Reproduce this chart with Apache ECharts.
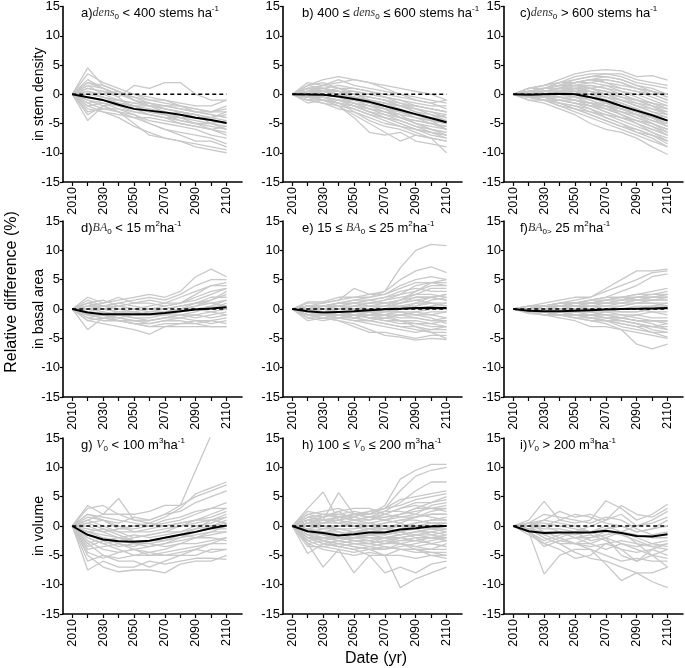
<!DOCTYPE html>
<html>
<head>
<meta charset="utf-8">
<script src="https://cdn.jsdelivr.net/npm/echarts@6/dist/echarts.min.js"></script>
<style>html,body{margin:0;padding:0;background:#fff}#c{width:685px;height:668px}</style>
</head>
<body>
<div id="c"></div>
<script>
const years = [2010,2020,2030,2040,2050,2060,2070,2080,2090,2100,2110];
const xLabelYears = [2010,2030,2050,2070,2090,2110];
const yTickValues = [-15,-10,-5,0,5,10,15];

const meanA = [0,-0.5,-1,-1.8,-2.5,-2.8,-3.1,-3.5,-4,-4.4,-4.9];
const meanB = [0,-0.05,-0.1,-0.4,-0.8,-1.3,-2.0,-2.7,-3.4,-4.1,-4.8];
const meanC = [0,-0.1,0,0.1,0,-0.5,-1.1,-2.0,-2.8,-3.6,-4.5];
const meanD = [0,-0.6,-0.9,-0.9,-0.9,-0.9,-0.7,-0.4,-0.1,0.1,0.3];
const meanE = [0,-0.4,-0.6,-0.5,-0.4,-0.2,-0.05,0.05,0.15,0.2,0.15];
const meanF = [0,-0.3,-0.4,-0.4,-0.3,-0.2,-0.1,0,0.05,0.1,0.15];
const meanG = [0,-1.5,-2.3,-2.6,-2.7,-2.5,-2.0,-1.5,-1.0,-0.4,0.1];
const meanH = [0,-0.9,-1.2,-1.6,-1.4,-1.1,-1.1,-0.6,-0.4,-0.1,0.0];
const meanI = [0,-0.9,-1.2,-1.1,-1.1,-1.1,-0.8,-1.2,-1.7,-1.8,-1.4];

const greyA = [
[0,4.5,1.5,0.5,-1,-2,-2.5,-3,-3.5,-4,-4.5],
[0,3.5,2,1,0,-1,-1.5,-2,-2.5,-3,-3],
[0,-4.5,-2,-3,-5,-7,-7.5,-8,-8.5,-9,-9.5],
[0,-2,-3,-4,-5.5,-6.5,-7.5,-8,-9,-9.5,-10],
[0,1,0.5,-0.5,1.5,1,2,2,0,-1,-1],
[0,2,1,0,-1,-1.5,-2,-2,-2.5,-3,-2],
[0,-1,-1.5,-2,-3,-3.5,-4,-5,-5.5,-6,-6.5],
[0,0.5,-0.5,-1.5,-2,-2.5,-3,-3.5,-4,-4.5,-5],
[0,-0.5,-1,-2,-2.5,-3,-3.5,-4.5,-5,-5.5,-6],
[0,1.5,0,-1,-1.5,-2,-2,-2.5,-3,-3.5,-4],
[0,-2.5,-3,-3.5,-4,-5,-6,-6.5,-7,-7.5,-8.5],
[0,-1.5,-1,-1.5,-2,-2,-2.5,-3,-4,-4,-3.5],
[0,2.5,1,-0.5,-2.5,-3.5,-4,-4,-5,-6,-7],
[0,0,-0.5,-1,-1.5,-1.5,-2,-2.5,-3,-3,-2.5],
[0,-3,-2.5,-3,-3.5,-4.5,-5,-5.5,-6,-7,-7.5],
[0,1,0.5,0,-0.5,-1,-1,-1.5,-2,-2,-1],
[0,-1,-2,-3,-4,-4,-4.5,-5,-5.5,-6,-5.5],
[0,0.5,0,0.5,-1,-2,-3,-4,-4.5,-5,-5.5],
[0,-2,-1.5,-2.5,-3,-3.5,-4,-4.5,-5,-5,-4.5],
[0,1.5,1,0,0,-0.5,-1,-2,-3,-3.5,-4],
[0,-0.5,-1,-1,-2,-3,-3.5,-3,-3.5,-4,-3],
[0,-1.5,-2.5,-2.5,-3.5,-5,-6,-7,-8,-8,-9],
[0,2,1.5,0.5,-0.5,-1.5,-2.5,-3,-3.5,-5,-6],
[0,-3.5,-2,-1.5,-2,-3,-3.5,-4,-4,-4.5,-5]
];
const greyB = [
[0,1.5,2.5,3,2.5,2,1.5,1,0.5,0,-1],
[0,2,1.5,2,2.5,2,1,0,-0.5,-1,-1.5],
[0,-1.5,-1,-2,-4,-6.5,-7,-6.5,-8,-8.5,-9],
[0,-0.5,-1,-2,-3.5,-5,-6.5,-8,-7,-7.5,-8],
[0,1,1,1.5,1,0.5,-0.5,-1.5,-2,-2.5,-3],
[0,0.5,0,-0.5,-1,-2,-3,-4,-5,-5.5,-6],
[0,-0.5,-0.5,-1,-2,-3,-4,-5,-6,-7,-7.5],
[0,0,0.5,0.5,0,-0.5,-1,-1.5,-2.5,-3.5,-4],
[0,1,0.5,0,-0.5,-1,-2,-3,-4,-4.5,-5],
[0,-1,-1.5,-2,-2.5,-3.5,-4.5,-5.5,-6.5,-7.5,-10],
[0,0.5,1,0.5,0.5,0,-0.5,-1,-1.5,-2,-2],
[0,-0.5,0,-0.5,-1.5,-2.5,-3,-3.5,-4,-5,-5.5],
[0,1.5,2,1,0,-1,-1.5,-2,-3,-3.5,-4.5],
[0,0,-0.5,-1.5,-2,-3,-3.5,-4,-4.5,-5,-5.5],
[0,-1,-0.5,-1,-1.5,-2,-2.5,-3.5,-5,-6,-7],
[0,0.5,1.5,2.5,1.5,1,0.5,0,-1,-1.5,-2.5],
[0,0,-1,-1.5,-3,-4,-5,-5.5,-6,-6.5,-7],
[0,1,0.5,0,-1,-1.5,-2.5,-3,-3.5,-4,-3.5],
[0,-0.5,-1,-1,-1.5,-2,-2.5,-3,-3.5,-4,-4.5],
[0,0.5,0,-0.5,-0.5,-1,-1.5,-2,-2,-2.5,-3],
[0,-1,-1.5,-2.5,-3,-4.5,-5.5,-6,-7,-7.5,-8],
[0,1,1,0.5,-0.5,-1.5,-2.5,-4,-5,-6,-6.5],
[0,0,0.5,1,1,0.5,0,-0.5,-1,-1.5,-1],
[0,-0.5,-0.5,-1,-2,-2.5,-3.5,-4.5,-5.5,-6,-6.5],
[0,1.5,1,0.5,0,-0.5,-1,-2,-3,-4,-5],
[0,0,-0.5,-1,-1,-1.5,-2,-3,-4,-4.5,-5],
[0,-1,-1,-1.5,-2.5,-3.5,-4,-5,-6,-6.5,-7.5],
[0,0.5,0.5,0,-0.5,-1,-1.5,-2.5,-3.5,-4.5,-6],
[0,0.5,0.5,0,0,-0.5,-1,-2,-2.5,-3,-3.5],
[0,0,-0.5,-1,-1.5,-2.5,-3,-4,-4.5,-5,-6],
[0,1,1.5,1,0.5,0,-0.5,-1,-2,-2.5,-3],
[0,-0.5,-1,-1.5,-2,-3,-4,-4.5,-5.5,-6.5,-7],
[0,0,0,-0.5,-1,-1,-1.5,-2,-2.5,-3,-4],
[0,0.5,1,0.5,0,-1,-2,-3,-3.5,-4,-4.5]
];
const greyC = [
[0,1,1.5,2.5,3.5,4,4.2,4,3,3.2,2.4],
[0,1,1.5,2,3,3.5,3.5,3,2,1.5,1],
[0,0.5,1,2,2.5,3,3,2.5,1.5,1,0],
[0,0.5,1,1.5,2,2.5,2,1.5,1,0.5,-0.5],
[0,0.5,0.5,1,1.5,1.5,1,0.5,0,-1,-2],
[0,0,0.5,0.5,1,1,0.5,0,-1,-2,-3],
[0,0,0,0.5,0.5,0,-0.5,-1,-2,-3,-4],
[0,0,0,0,0,-0.5,-1,-2,-3,-4,-5],
[0,-0.5,-0.5,-0.5,-1,-1.5,-2,-3,-4,-5,-6],
[0,-0.5,-1,-1.5,-2,-2.5,-3.5,-4.5,-5.5,-6.5,-7.5],
[0,-1,-1.5,-2.5,-3.5,-5,-6,-6.5,-7.5,-9,-10.3],
[0,-0.5,-1,-2,-3,-4,-5,-6,-7,-8,-9],
[0,0.5,0.5,0,-0.5,-1.5,-2.5,-3.5,-4.5,-5.5,-6.5],
[0,0,0.5,1,0.5,0,-1,-2,-3,-4,-4.5],
[0,0.5,1,1.5,1.5,1,0,-1,-2,-2.5,-3.5],
[0,-0.5,0,-0.5,-1,-2,-3,-4,-5,-6.5,-8],
[0,0,-0.5,-1,-1.5,-2,-2.5,-3,-3.5,-4.5,-5.5],
[0,0.5,0,0,0.5,1,1.5,1,0.5,0,-1],
[0,0.5,1,1.5,2.5,3,3.5,3.5,2.5,2,1.5],
[0,0,0.5,1,2,2,1.5,0.5,-0.5,-1.5,-2.5],
[0,-0.5,-1,-1,-1.5,-2.5,-4,-5,-6,-7,-8.5],
[0,0,-0.5,-1.5,-2.5,-3.5,-4.5,-5.5,-6,-7,-8],
[0,1,1,1.5,1,0.5,-0.5,-1.5,-2.5,-3.5,-4.5],
[0,0,0,0.5,1,0.5,0,-1,-1.5,-2.5,-3],
[0,-0.5,-0.5,0,0,-1,-2,-3,-4,-5,-6.5],
[0,0.5,0.5,1,1.5,2,2.5,2,1,0.5,-0.5],
[0,0,-0.5,-1,-1,-1.5,-1.5,-2,-3,-4,-5],
[0,-0.5,-1,-1.5,-2,-3,-4,-5,-6.5,-7.5,-9],
[0,0.5,1,1,1.5,1,0.5,-0.5,-1.5,-2,-2.5],
[0,0,0.5,0.5,0,-0.5,-1.5,-2.5,-3.5,-5,-6],
[0,0.5,0,-0.5,-0.5,-1,-2,-3.5,-5,-6,-7],
[0,-1,-1,-1.5,-2.5,-3,-3.5,-4,-4.5,-5,-6],
[0,1,1.5,2,2,2.5,3,2.5,1.5,0.5,0],
[0,0,0,0,-0.5,-0.5,-1,-1.5,-2.5,-3.5,-4],
[0,0.5,0.5,0.5,1,0,-0.5,-1,-2,-3,-3.5],
[0,0.5,1,1.5,2,2.5,2.5,2,1,0,-1],
[0,0,0,-0.5,-1,-1.5,-2.5,-3.5,-4.5,-5.5,-7],
[0,-0.5,-0.5,-1,-1.5,-2,-3,-4,-5,-6,-7],
[0,0.5,0.5,0.5,0.5,0,-1,-2,-3,-3.5,-4.5],
[0,0,0.5,1,1,1,0.5,-0.5,-1,-1.5,-2],
[0,-0.5,-1,-1,-1.5,-2,-2,-2.5,-3.5,-4.5,-5],
[0,0.5,1,1,2,2.5,2,1,0.5,-0.5,-1.5],
[0,0,-0.5,-0.5,-1,-1.5,-2,-2.5,-3,-4,-4.5],
[0,-0.5,-1,-2,-2.5,-3.5,-4.5,-5.5,-6.5,-7,-8],
[0,0,0,0,0.5,0.5,0,-0.5,-1,-1.5,-2.5],
[0,0.5,0.5,1,0.5,-0.5,-1.5,-2.5,-3.5,-4,-5.5],
[0,0,0.5,0.5,1,1.5,1,0,-1,-2,-3.5]
];
const greyD = [
[0,2,1,1.5,2,2.5,2,3,5.5,6.8,5.5],
[0,1.5,0.5,1,1.5,2,1.5,2.5,4,5,5],
[0,-3.5,-1.5,-2,-2.5,-3,-3,-3,-3,-3,-3],
[0,-2,-2.5,-3,-3.5,-4.3,-3,-2.5,-2,-2.5,-2],
[0,1,1.5,0.5,0,0.5,1,2,3,4,4.5],
[0,0.5,0,-0.5,-0.5,0,0.5,1,2,3,3.5],
[0,-1,-1.5,-1.5,-1,-1,-0.5,0,0.5,1.5,2.5],
[0,-0.5,-1,-1.5,-2,-2,-1.5,-1,-1,-0.5,0],
[0,-1.5,-2,-2,-2.5,-2.5,-2,-2,-2.5,-3,-3],
[0,0,0.5,0,-0.5,-1,-1,-0.5,0.5,1,1.5],
[0,-1,-0.5,-1,-1.5,-1.5,-1,-0.5,0,0,1],
[0,1,0,-0.5,-1,-1,-0.5,0,1,2,2],
[0,-0.5,-1,-1,-1,-0.5,0,0.5,1,1.5,3],
[0,-2,-1.5,-2,-2,-2.5,-2,-1.5,-1,-1.5,-1],
[0,0.5,1,2,1,1.5,1,1,1.5,2.5,3.5],
[0,-1,-1.5,-1,-1.5,-2,-1.5,-1.5,-2,-2,-2.5],
[0,0,-0.5,-1,-1,-1,-1,-0.5,0,0.5,0.5],
[0,-1.5,-1,-1.5,-2,-2,-1.5,-1,-0.5,0.5,1.5],
[0,0.5,0.5,1,0.5,0,0,0.5,1,1,0.5],
[0,-0.5,-1,-2,-2.5,-3,-2.5,-2.5,-2.5,-2,-1.5],
[0,1,0.5,0.5,0,-0.5,-0.5,0,0,-0.5,-1],
[0,-1,-1,-0.5,-0.5,-1,-1,-1,-1.5,-1,-0.5],
[0,-0.5,0,0.5,1,1,0.5,1,2.5,4,4]
];
const greyE = [
[0,0.5,0.5,1,1.5,2,3,7,10,11,10.8],
[0,1,1,1.5,2,2.5,3,5,6.5,7.2,6.2],
[0,0.5,1,1.5,3.5,2.5,2.5,4,5,5.5,5],
[0,1.2,1.2,2,2,2,2.5,3.5,4.5,4.5,4],
[0,0,0.5,1,1,1.5,2,3,3.5,3,3],
[0,-0.5,0,0.5,0.5,1,1.5,2,2.5,2.5,2],
[0,-0.5,-0.5,0,0,0.5,1,1,1.5,2,1.5],
[0,-1,-1,-0.5,-0.5,0,0,0.5,0.5,1,1],
[0,-1,-1.5,-1.5,-1,-1,-0.5,0,0,0,0],
[0,-2,-1.5,-2,-2.5,-3.5,-4.5,-4.8,-5.3,-5,-5.2],
[0,-1,-1.5,-2,-3,-4,-4,-4.5,-5,-4.5,-4.5],
[0,-0.5,-1,-1,-1.5,-2,-2.5,-3,-3.5,-4,-4],
[0,-1.5,-2,-1.5,-1,-1.5,-2,-2.5,-2.5,-3,-3],
[0,-0.5,-1,-1,-1,-1,-1,-1.5,-1.5,-2,-2],
[0,0,-0.5,-0.5,-0.5,-0.5,-0.5,-0.5,-1,-1,-0.5],
[0,0.5,0,0,0.5,0.5,0.5,1,1.5,1,0.5],
[0,-1,-0.5,-1,-1.5,-1,-1,0,1,2,2.5],
[0,-0.5,-1,-1.5,-2,-2,-1.5,-1,-0.5,-1,-1.5],
[0,0,0.5,0.5,1,1,1,1.5,2.5,3.5,3.5],
[0,-1,-1,-1.5,-2,-2.5,-3,-3.5,-4,-3.5,-3],
[0,0.5,0.5,1,1,0.5,0.5,0.5,0,0.5,1],
[0,-0.5,-0.5,-1,-0.5,0,0.5,1.5,3,4.5,5],
[0,-1,-1,-0.5,-1,-1.5,-1,-0.5,-1,-1.5,-2.5],
[0,0,0,0.5,0,-0.5,-1,-2,-2.5,-2.5,-2],
[0,-0.5,-1,-1,-1.5,-1,0,1,2,2,1.5],
[0,0,-0.5,0,0.5,1,1.5,2.5,4,4.5,4.5],
[0,-1.5,-1,-1,-1.5,-2,-2.5,-3,-3,-4,-5],
[0,0.5,0,-0.5,-1,-0.5,0,0,0.5,1.5,2],
[0,0.5,0.5,0.5,1,1.5,2,2.5,3,4,4],
[0,-0.5,-0.5,-1,-1,-1.5,-2,-2,-2,-2.5,-3],
[0,0,0,-0.5,-1,-1.5,-1.5,-1,-1,-0.5,-0.5],
[0,-1,-1,-1,-0.5,-0.5,0,0.5,1,1,0.5],
[0,0,0.5,1,1.5,1.5,1,1.5,2,2,2.5],
[0,-0.5,-1,-1.5,-1.5,-1,-1.5,-2,-3,-3.5,-3.5],
[0,0.5,0.5,0.5,0,0,0,-0.5,-0.5,0,0],
[0,-1.5,-1.5,-1,-0.5,-1,-1,-1,-1.5,-2,-1.5]
];
const greyF = [
[0,0.5,1,1.5,2,2,3.5,5,6.5,6.5,6.8],
[0,0,0.5,1,1.5,2,3,4,5,6.2,6.5],
[0,0.5,0.5,1,1,1.5,2,3,4,5.5,6],
[0,0,0.5,0.5,1,1,1.5,2,2.5,2.5,3],
[0,0,0,0.5,0.5,1,1,1.5,2,2,2.5],
[0,-0.5,0,0,0,0.5,0.5,1,1.5,1.5,2],
[0,0,0,0,0.5,0.5,0.5,0.5,1,1,1],
[0,-0.5,-0.5,-0.5,-0.5,0,0,0,0,0.5,0.5],
[0,-0.5,-0.5,-1,-1,-1,-0.5,-0.5,-0.5,0,0],
[0,-0.5,-1,-1,-1.5,-2,-2.5,-3.5,-6,-6.8,-6],
[0,-0.8,-1,-1.5,-2,-3,-3,-3.5,-4,-4.5,-5],
[0,-0.5,-1,-1,-1.5,-2,-2,-2.5,-3,-4,-4.8],
[0,-0.5,-0.5,-1,-1,-1.5,-2,-2,-2.5,-3,-3.5],
[0,0,-0.5,-0.5,-1,-1,-1.5,-1.5,-2,-2,-2.5],
[0,0,0,-0.5,-0.5,-0.5,-1,-1,-1,-1.5,-1.5],
[0,0.5,0.5,1,1,1,1,1,1,1.5,1.5],
[0,0,0.5,0.5,1,1.5,2,2,2,2.5,2.5],
[0,-0.5,-0.5,-0.5,-1,-1.5,-2,-3,-3.5,-4,-4],
[0,0,0,0,0,-0.5,-0.5,-1,-1.5,-2,-2],
[0,0,0,0.5,0.5,0.5,1,1.5,2,2,2],
[0,-0.5,-0.5,-1,-1,-1,-1.5,-1.5,-1,-0.5,-1],
[0,0,0.5,0.5,0.5,0,0,-0.5,-0.5,0,0.5],
[0,-0.5,-1,-1,-1,-1.5,-1.5,-2,-2.5,-3,-3],
[0,0,0,0.5,1,1,1.5,2,1.5,1.5,1.5],
[0,0.5,0.5,0.5,0.5,0.5,0,0.5,1,1,0.5],
[0,-0.5,-0.5,-0.5,-0.5,-1,-1,-1.5,-2,-2.5,-3.5],
[0,0,0.5,1,1,1.5,1.5,2,2.5,3,3.5],
[0,-0.5,-1,-1,-1,-1,-1,-1.5,-2,-2,-2],
[0,0,0,0,0,0,0,0,0.5,0.5,1],
[0,-0.5,-0.5,-0.5,-1,-1,-1.5,-2,-2.5,-3.5,-4],
[0,0,0.5,0.5,0.5,1,1,1,1.5,2,2],
[0,0,-0.5,-0.5,-0.5,-0.5,0,0,0,-0.5,-0.5],
[0,0.5,0.5,1,1,1,1.5,1.5,1.5,2,2.5],
[0,-0.5,-0.5,-1,-1.5,-1.5,-2,-2.5,-3,-3,-2.5]
];
const greyG = [
[0,1,2,2,1,1,2,3.5,9.5,15.5,21],
[0,3.5,2,4.7,1,0.5,1.5,3,5.5,6.5,7.5],
[0,3,3.5,2,2,2.5,3.5,3.5,5,6,7],
[0,2,1,0.5,1.5,1,2,2.5,4,5,6],
[0,-7.5,-6,-7,-7,-6,-6.5,-6,-5.5,-5.5,-5.7],
[0,-5,-7,-7.8,-7.5,-7.5,-8,-6.5,-6,-6,-5],
[0,-3,-5,-6,-6,-7,-6,-5,-5,-4,-4],
[0,-2,-3,-4,-5,-5,-4.5,-4,-3.5,-3,-3],
[0,-1,-2,-2.5,-3,-3,-2.5,-2,-1.5,-1,0],
[0,0.5,-0.5,-1,-1,-1,-0.5,0,0.5,1,2],
[0,-4,-3.5,-3,-4,-4.5,-4,-3,-2,-2,-2.5],
[0,-1.5,-2.5,-3.5,-3,-2.5,-2,-1.5,-1,0,1],
[0,-0.5,-1,-0.5,0,0.5,0,0.5,1,2,3],
[0,-2.5,-4,-4.5,-4,-3.5,-3,-2.5,-2,-1,-1],
[0,1,0,-1,-2,-1.5,-1,-1,0,0.5,1.5],
[0,-6,-5,-5.5,-5,-4.5,-5,-5,-4,-3,-2],
[0,-1,-1.5,-2,-1.5,-2,-1.5,-1,-0.5,0,0.5],
[0,2,1.5,1,0.5,0,0.5,1,2,3,4],
[0,-3.5,-2.5,-2,-2.5,-3,-3.5,-3,-3,-2.5,-2],
[0,0,-1,-2,-3,-3.5,-3,-2,-1,-0.5,-0.5],
[0,-2,-3,-2.5,-2,-1.5,-1,0,1,1.5,2.5],
[0,-4.5,-5.5,-4.5,-4,-5,-5,-4.5,-4,-4.5,-4],
[0,1.5,1,0,-1,-0.5,0,0.5,1,1,0.5],
[0,-1,-0.5,-1.5,-2.5,-2.5,-2.5,-1.5,-0.5,1,1.5],
[0,-3,-2,-3,-3.5,-2.5,-2,-1.5,-2,-1.5,-1],
[0,0.5,1,-0.5,-0.5,0,1,1.5,2.5,3,3]
];
const greyH = [
[0,1,2,1.5,2,2,3.5,8,9.5,10.5,10.5],
[0,0.5,1.5,2,1.5,2.5,3,6,8.5,9.5,10],
[0,3,5.8,1,2,1.5,2.5,4,6,7.5,7.5],
[0,1,1,5.7,2,2,3,4.5,5,5.5,6],
[0,2,1.5,2.5,1,1,2,3,4,4,4.5],
[0,0.5,1,1,0.5,0.5,1,2,3,3,3.5],
[0,-0.5,0,0,0,0,0.5,1,1.5,2,2],
[0,-1,-1,-0.5,-1,-0.5,0,0,0.5,1,1],
[0,-2,-2,-2,-2,-1.5,-1.5,-1,-0.5,0,0],
[0,-4.7,-3,-3.5,-3,-3,-2.5,-2,-1.5,-1.5,-1],
[0,-3,-7,-4,-4.5,-4,-4,-3,-2.5,-2,-2],
[0,-2.5,-3.5,-4,-8,-5,-5,-4,-4,-4,-3],
[0,-1.5,-2.5,-3,-3.5,-4,-5,-10.5,-9,-8,-7],
[0,-2,-3,-3.5,-4,-5,-8,-7,-8,-6.5,-6],
[0,-3,-4,-4.5,-5,-4.5,-5,-5,-5.5,-5,-5],
[0,-1,-1.5,-2,-2.5,-2.5,-3,-3,-3.5,-4,-4],
[0,-0.5,-1,-1,-1.5,-1.5,-2,-2,-2.5,-3,-2.5],
[0,0,0.5,0.5,0,-0.5,-0.5,0,0,-0.5,-1],
[0,1,0.5,1,1.5,1,1.5,2,2.5,3,3],
[0,1.5,2,2,2.5,2,2.5,2.5,2,1.5,1],
[0,-1.5,-1,-1.5,-2,-1.5,-1,-1.5,-1,-1,-1.5],
[0,-2.5,-2,-2.5,-3,-3,-2.5,-3,-3.5,-3,-3.5],
[0,0.5,0,-0.5,-0.5,0,0.5,1,1,0.5,0.5],
[0,-0.5,-1.5,-2,-2,-2,-2,-1.5,-1,-0.5,-0.5],
[0,-3.5,-3.5,-3,-3.5,-4,-3.5,-4,-4.5,-4.5,-4.5],
[0,1,1.5,2.5,3,3,2,1.5,1.5,2,2],
[0,-1,-2,-2.5,-2,-2.5,-3,-2.5,-2,-2,-2.5],
[0,0.5,0.5,1,0,-1,-1,-0.5,0,0.5,0.5],
[0,-1.5,-2,-1.5,-1,-1,-1.5,-1,0,0,0.5],
[0,2.5,2,1.5,1,1.5,1,0.5,-0.5,-1.5,-2],
[0,-2,-2.5,-3,-2.5,-2.5,-2,-3,-4,-5,-5.5],
[0,0,-0.5,-0.5,-1,-1,-0.5,0.5,1.5,2.5,3],
[0,1.5,1,1.5,2,2.5,3,3.5,4.5,5,5.5],
[0,-1,-1.5,-2,-2.5,-3,-3.5,-4,-4,-4.5,-5],
[0,0.5,1,0.5,1,1.5,1,1.5,2,3.5,4],
[0,-0.5,-1,-1.5,-1,-0.5,-1,-0.5,0.5,1,1.5],
[0,-2,-3,-2.5,-3,-3.5,-4,-3.5,-3,-2.5,-2],
[0,1,0,-1,-1.5,-2,-2,-2.5,-2.5,-2,-1.5],
[0,-1.5,-2.5,-3.5,-4,-3.5,-3,-2,-1.5,-1,-0.5],
[0,0,0.5,1.5,2,1.5,1.5,2,3,4,5],
[0,-3,-2.5,-2,-2.5,-3,-2,-1.5,-1,-0.5,0],
[0,0.5,1,1.5,1,0.5,0,-1,-1.5,-2,-2.5],
[0,-1,-0.5,0,0.5,0,-0.5,-1,-2,-3,-3.5],
[0,2,2.5,3,2,1.5,2,3,3.5,3,2.5]
];
const greyI = [
[0,1,4.2,1,0.5,1,4.3,3,1,2,3.7],
[0,-1,-8.2,-5,-4,-4,-5,-6,-5.5,-6,-6],
[0,0.5,-1,-2,-3,-4,-6.5,-9.3,-8,-8,-7],
[0,-0.5,-2,-3,-4.5,-5.5,-6,-7,-8,-9.5,-10.5],
[0,0.5,1,2.5,1.5,2,1,2,0,1,2.5],
[0,-1.5,-3,-4,-5.5,-5,-3,-4,-6,-5,-4],
[0,0,-0.5,-0.5,-1,0,1,3.5,2,1.5,3],
[0,-0.5,-1.5,-1,-2,-2,-1.5,-1,-2,-3,-2.5],
[0,-1,-2.5,-1.5,-1,-2.5,-2,-3,-3.5,-3,-3.5],
[0,0.5,0.5,0,-0.5,-1,-0.5,0,-1,-0.5,0],
[0,-1,-1,-2,-3,-3,-4,-3,-4,-5,-5.5],
[0,0,-1.5,-2.5,-2,-1.5,-2.5,-4,-4.5,-4,-5],
[0,0.5,0,1,2,1.5,0.5,0,-1,-0.5,1],
[0,-0.5,-2,-3,-3,-2,-1,-1.5,-2.5,-3.5,-3],
[0,-1,-3,-2,-1,-1,-2,-5,-6,-4,-3],
[0,0,1,0.5,0,-1,-1,-1,-1.5,-2,-2],
[0,-0.5,0,-1,-2,-3,-2,-1,0,0.5,1.5],
[0,-1,-3.5,-2.5,-3,-3.5,-3,-2.5,-3,-3.5,-4],
[0,0.5,2,1.5,1,0.5,1.5,1,-0.5,-1.5,-1],
[0,-0.5,-1,-1,-1.5,-1,0,-1,-3,-5,-7]
];

const yNames = ['in stem density', 'in basal area', 'in volume'];
const titleTexts = [
  '{n|a)}{i|dens}{s|0}{n| < 400 stems ha}{p|-1}',
  '{n|b) 400 ≤ }{i|dens}{s|0}{n| ≤ 600 stems ha}{p|-1}',
  '{n|c)}{i|dens}{s|0}{n| > 600 stems ha}{p|-1}',
  '{n|d)}{i|BA}{s|0}{n| < 15 m}{p|2}{n|ha}{p|-1}',
  '{n|e) 15 ≤ }{i|BA}{s|0}{n| ≤ 25 m}{p|2}{n|ha}{p|-1}',
  '{n|f)}{i|BA}{s|0>}{n| 25 m}{p|2}{n|ha}{p|-1}',
  '{n|g) }{i|V}{s|0}{n| < 100 m}{p|3}{n|ha}{p|-1}',
  '{n|h) 100 ≤ }{i|V}{s|0}{n| ≤ 200 m}{p|3}{n|ha}{p|-1}',
  '{n|i)}{i|V}{s|0}{n| > 200 m}{p|3}{n|ha}{p|-1}'
];
const means = [meanA, meanB, meanC, meanD, meanE, meanF, meanG, meanH, meanI];
const greys = [greyA, greyB, greyC, greyD, greyE, greyF, greyG, greyH, greyI];

const colLeft = [63, 283, 504];
const rowTop = [6, 221, 438];
const gridW = 179, gridH = 176;
const titleLeft = [81, 302, 520];

const FONT = 'Liberation Sans, Arial, sans-serif';
const grids = [], xAxes = [], yAxes = [], series = [], titles = [];
const rich = {
  n: {fontSize: 13, fontFamily: FONT, fontWeight: 'normal', color: '#000', lineHeight: 16},
  i: {fontSize: 12, fontFamily: 'Liberation Serif, Times New Roman, serif', fontStyle: 'italic', fontWeight: 'normal', color: '#333', lineHeight: 16},
  s: {fontSize: 8, fontFamily: FONT, fontWeight: 'normal', color: '#000', verticalAlign: 'bottom', lineHeight: 12},
  p: {fontSize: 8, fontFamily: FONT, fontWeight: 'normal', color: '#000', verticalAlign: 'top', lineHeight: 12}
};

for (let k = 0; k < 9; k++) {
  const r = Math.floor(k / 3), c = k % 3;
  grids.push({left: colLeft[c], top: rowTop[r], width: gridW, height: gridH, containLabel: false});
  xAxes.push({
    type: 'value', gridIndex: k, min: 2004, max: 2120,
    axisLine: {onZero: false, lineStyle: {color: '#000', width: 1.6}},
    axisTick: {show: true, length: 4, customValues: years, lineStyle: {color: '#000', width: 1.2}},
    axisLabel: {customValues: xLabelYears, rotate: 90, fontSize: 12.5, color: '#000', fontFamily: FONT, margin: 5,
                formatter: v => String(v)},
    splitLine: {show: false}
  });
  yAxes.push({
    type: 'value', gridIndex: k, min: -15, max: 15, interval: 5,
    name: c === 0 ? yNames[r] : '',
    nameLocation: 'middle', nameGap: 17, nameRotate: 90, nameMoveOverlap: false,
    nameTextStyle: {fontSize: 14, color: '#000', fontFamily: FONT},
    axisLine: {show: true, onZero: false, lineStyle: {color: '#000', width: 1.6}},
    axisTick: {show: true, length: 3, lineStyle: {color: '#000', width: 1.2}},
    axisLabel: {fontSize: 13, color: '#000', fontFamily: FONT, margin: 3},
    splitLine: {show: false}
  });
  greys[k].forEach(vals => {
    series.push({
      type: 'line', xAxisIndex: k, yAxisIndex: k, silent: true, symbol: 'none',
      data: years.map((y, j) => [y, vals[j]]),
      lineStyle: {color: '#c8c8c8', width: 1.3}, z: 1, animation: false
    });
  });
  series.push({
    type: 'line', xAxisIndex: k, yAxisIndex: k, silent: true, symbol: 'none',
    data: years.map(y => [y, 0]),
    lineStyle: {color: '#000', width: 1.5, type: [4, 3]}, z: 3, animation: false
  });
  series.push({
    type: 'line', xAxisIndex: k, yAxisIndex: k, silent: true, symbol: 'none', smooth: false,
    data: years.map((y, j) => [y, means[k][j]]),
    lineStyle: {color: '#000', width: 2}, z: 4, animation: false
  });
  titles.push({
    text: titleTexts[k], left: titleLeft[c], top: rowTop[r] - 1, padding: 0,
    textStyle: {fontWeight: 'normal', rich: rich}
  });
}

const chart = echarts.init(document.getElementById('c'), null, {renderer: 'canvas'});
chart.setOption({
  animation: false,
  backgroundColor: '#fff',
  title: titles,
  grid: grids,
  xAxis: xAxes,
  yAxis: yAxes,
  series: series,
  graphic: [
    {type: 'text', x: 12, y: 292, rotation: Math.PI / 2,
     style: {text: 'Relative difference (%)', font: '16px ' + FONT, fill: '#000', align: 'center', verticalAlign: 'middle'}},
    {type: 'text', x: 376, y: 659,
     style: {text: 'Date (yr)', font: '16px ' + FONT, fill: '#000', align: 'center', verticalAlign: 'middle'}}
  ]
});
</script>
</body>
</html>
